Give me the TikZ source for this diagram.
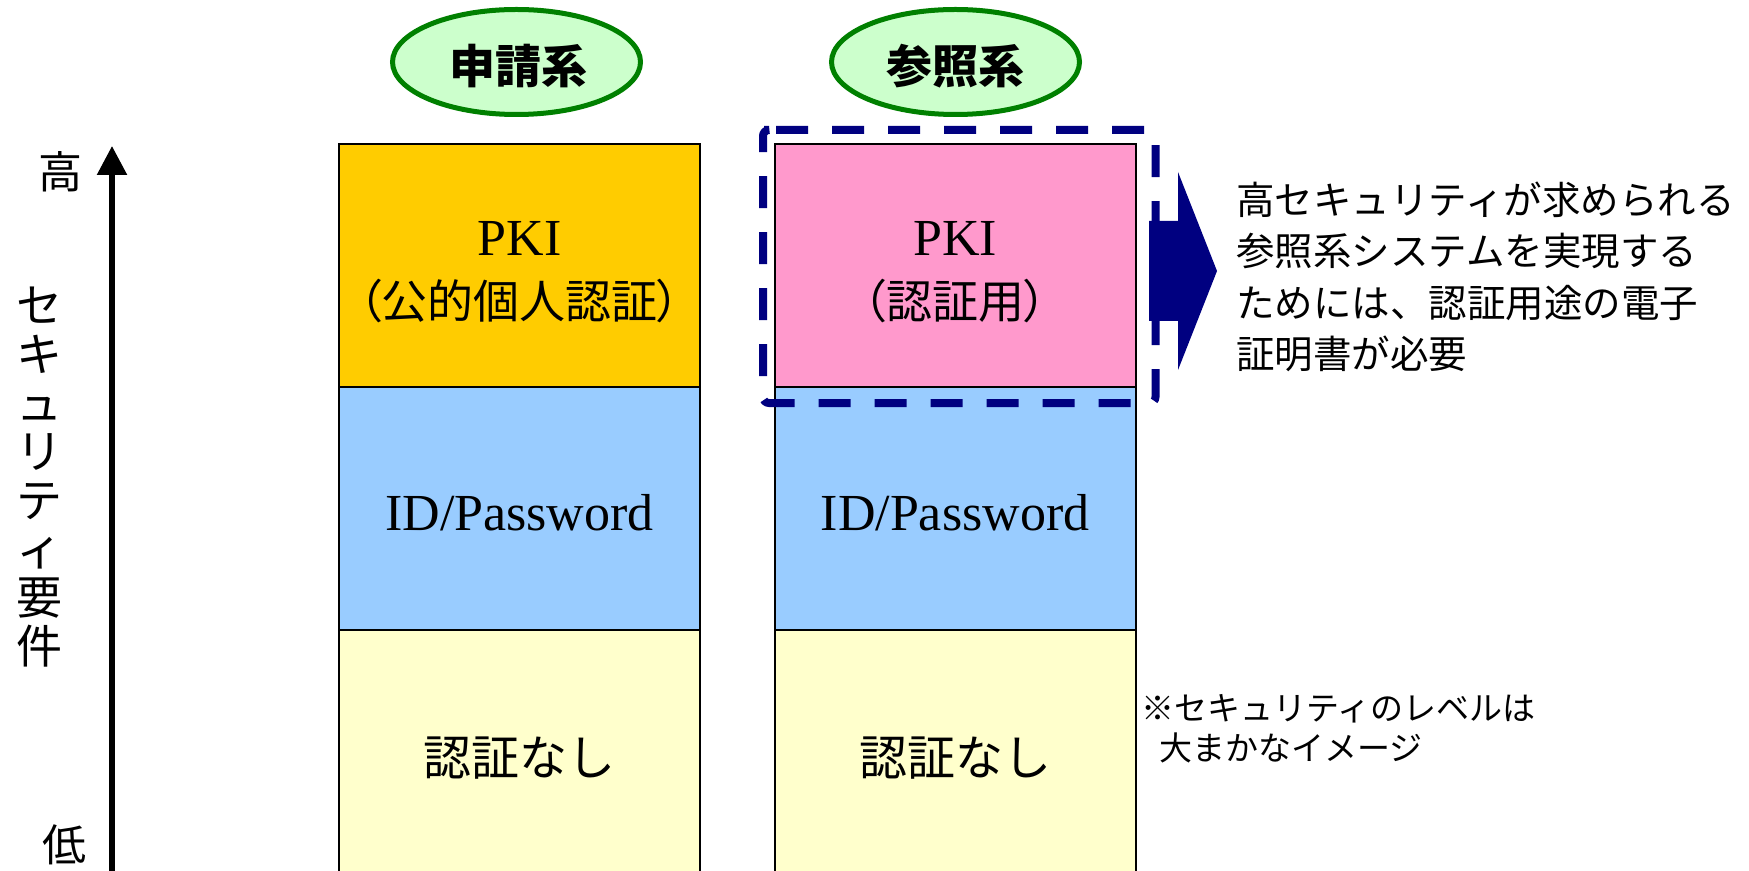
\documentclass[tikz,border=0pt]{standalone}
\usepackage{fontspec}
\setmainfont{Liberation Serif}
\newfontfamily\jp{Noto Sans CJK JP}
\newfontfamily\jpp{Noto Sans CJK JP}[RawFeature=+palt]
\usetikzlibrary{shapes.geometric,arrows.meta}
\definecolor{navyblue}{HTML}{000080}
\definecolor{grn}{HTML}{008000}
\definecolor{lgrn}{HTML}{CCFFCC}
\definecolor{pkiy}{HTML}{FFCC00}
\definecolor{pkip}{HTML}{FF99CC}
\definecolor{idb}{HTML}{99CCFF}
\definecolor{noney}{HTML}{FFFFCC}
\begin{document}
\begin{tikzpicture}[x=0.5pt,y=-0.5pt,
  sec/.style={draw=black, line width=1pt, rectangle, inner sep=0pt, minimum width=180.5pt},
  sys/.style={ellipse, draw=grn, fill=lgrn, line width=2.5pt, inner sep=0pt,
              minimum width=124pt, minimum height=52.5pt},
  systxt/.style={inner sep=0pt, font=\jp\bfseries\fontsize{23}{26}\selectfont},
  lat/.style={inner sep=0pt, font=\fontsize{26}{30}\selectfont},
  jpl/.style={inner sep=0pt, font=\jpp\fontsize{23}{26}\selectfont},
  nonel/.style={inner sep=0pt, font=\jp\fontsize{24}{26}\selectfont},
  axl/.style={inner sep=0pt, font=\jp\fontsize{22}{24}\selectfont}]
\clip (0,0) rectangle (1749,871);
% ellipses
\node (sysA) [sys] at (516.5,62) {};
\node (sysAt) [systxt] at (518,66) {申請系};
\node (sysB) [sys] at (955.5,62) {};
\node (sysBt) [systxt] at (955,66) {参照系};
% left column
\node (pkiL) [sec, fill=pkiy, minimum height=121.5pt] at (519.5,265.5) {};
\node (idL) [sec, fill=idb, minimum height=121.5pt] at (519.5,508.5) {};
\node (noL) [sec, fill=noney, minimum height=130pt] at (519.5,760) {};
% right column
\node (pkiR) [sec, fill=pkip, minimum height=121.5pt] at (955,265.5) {};
\node (idR) [sec, fill=idb, minimum height=121.5pt] at (955,508.5) {};
\node (noR) [sec, fill=noney, minimum height=130pt] at (955,760) {};
% texts in columns
\node (pkiLa) [lat] at (519.5,238) {PKI};
\node (pkiLb) [jpl] at (519.5,301) {（公的個人認証）};
\node (pkiRa) [lat] at (955,238) {PKI};
\node (pkiRb) [jpl] at (955,301) {（認証用）};
\node (idLt) [lat] at (519.5,513) {ID/Password};
\node (idRt) [lat] at (955,513) {ID/Password};
\node (noLt) [nonel] at (519.5,758) {認証なし};
\node (noRt) [nonel] at (955,758) {認証なし};
% axis
\coordinate (axbot) at (112,880);
\coordinate (axtop) at (112,146);
\draw[line width=2.75pt, -{Triangle[width=14.5pt,length=14.5pt]}] (axbot) -- (axtop);
\node (hi) [axl] at (60,172) {高};
\node (lo) [axl] at (64,845) {低};
\node (vlab) [align=center, inner sep=0pt, font=\jp\fontsize{23}{24.3}\selectfont] at (40,477)
  {セ\\キ\\ュ\\リ\\テ\\ィ\\要\\件};
% dashed highlight
\draw[navyblue, line width=4pt, dash pattern=on 16pt off 12pt, rounded corners=3pt]
  (770,130) -- (1155.5,130) -- (1155.5,403) -- (763,403) -- (763,130) -- cycle;
% block arrow
\fill[navyblue] (1149,221) -- (1178,221) -- (1178,172) -- (1217,271) -- (1178,370)
  -- (1178,321) -- (1149,321) -- cycle;
% right texts
\node (rtext) [anchor=west, align=left, inner sep=0pt, font=\jp\fontsize{19.25}{25.75}\selectfont]
  at (1236,277) {高セキュリティが求められる\\参照系システムを実現する\\ためには、認証用途の電子\\証明書が必要};
\node (note) [anchor=west, align=left, inner sep=0pt, font=\jp\fontsize{16.5}{20}\selectfont]
  at (1141,729) {※セキュリティのレベルは\\\hspace{9pt}大まかなイメージ};
\end{tikzpicture}
\end{document}
